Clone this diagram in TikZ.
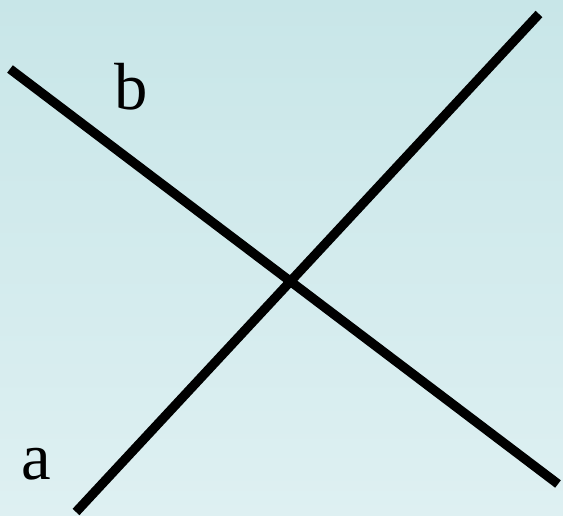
\documentclass[tikz,border=0pt]{standalone}
\usepackage{fontspec}
\setmainfont{Liberation Serif}
\definecolor{bgtop}{RGB}{200,230,232}
\definecolor{bgbot}{RGB}{222,240,242}
\tikzset{
  crossline/.style={line width=7pt, draw=black},
  lbl/.style={font=\fontsize{50}{50}\selectfont, inner sep=0pt}
}
\begin{document}
\begin{tikzpicture}[x=0.75pt,y=-0.75pt]
  \shade[top color=bgtop, bottom color=bgbot] (0,0) rectangle (563,516);
  \useasboundingbox (0,0) rectangle (563,516);
  \coordinate (a1) at (76,512);
  \coordinate (a2) at (539,14);
  \coordinate (b1) at (10,69);
  \coordinate (b2) at (558,484);
  \draw[crossline] (a1) -- (a2);
  \draw[crossline] (b1) -- (b2);
  \node[lbl, anchor=base] (la) at (36,479) {a};
  \node[lbl, anchor=base] (lb) at (131,110) {b};
\end{tikzpicture}
\end{document}
